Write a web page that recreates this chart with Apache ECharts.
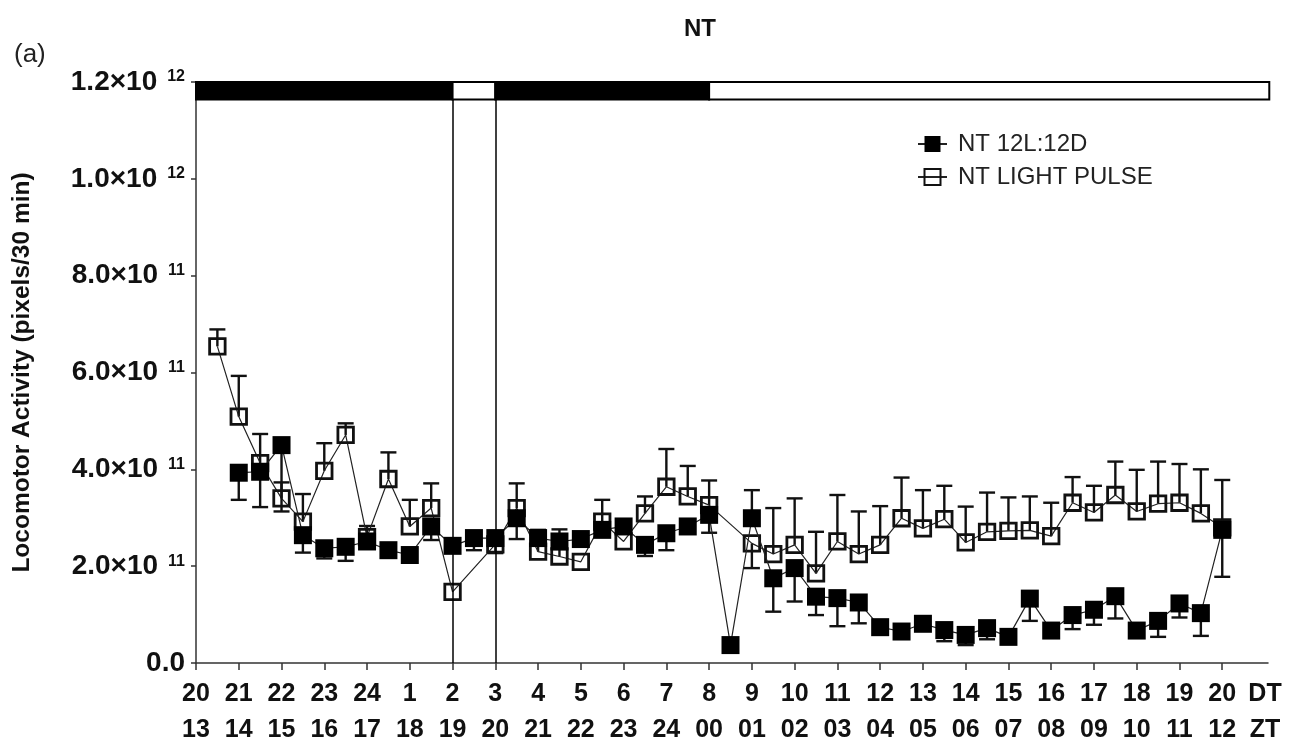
<!DOCTYPE html>
<html><head><meta charset="utf-8">
<script src="https://cdn.jsdelivr.net/npm/echarts@6/dist/echarts.min.js"></script>
<style>html,body{margin:0;padding:0;background:#fff}#c{width:1296px;height:744px}</style>
</head><body><div id="c"></div>
<script>
// x positions in hours from DT 20 (0 = DT 20 / ZT 13)
const hours = [0.5,1,1.5,2,2.5,3,3.5,4,4.5,5,5.5,6,6.5,7,7.5,8,8.5,9,9.5,10,10.5,11,11.5,12,
  12.5,13,13.5,14,14.5,15,15.5,16,16.5,17,17.5,18,18.5,19,19.5,20,20.5,21,21.5,22,22.5,23,23.5,24];
// values in units of 1e11 pixels / 30 min
const ntLD = [null,3.93,3.95,4.50,2.64,2.37,2.40,2.51,2.33,2.23,2.82,2.42,2.58,2.58,2.99,2.58,2.51,2.56,2.75,2.82,2.44,2.68,2.82,3.06,
  0.37,2.99,1.75,1.96,1.37,1.34,1.25,0.74,0.65,0.81,0.68,0.58,0.72,0.54,1.33,0.67,0.99,1.10,1.38,0.67,0.87,1.23,1.03,2.75];
const ldErrLow = [0,0.56,0.73,1.37,0.36,0.21,0.29,0.15,0,0,0.28,0,0.25,0.31,0.43,0,0,0,0,0,0.23,0.35,0,0.37,
  0,0,0.69,0.69,0.38,0.58,0.43,0,0,0,0.23,0.21,0.23,0,0.46,0,0.29,0.31,0.46,0,0.33,0.29,0.47,0.97];
const ldErrHigh = [0,0,0,0,0,0,0,0,0,0,0,0,0,0,0,0,0,0,0,0,0,0,0,0,
  0,0.58,0,0,0,0,0,0,0,0,0,0,0,0,0,0,0,0,0,0,0,0,0,1.03];
const ntLP = [6.54,5.09,4.13,3.40,2.92,3.97,4.71,2.60,3.80,2.82,3.20,1.47,null,2.45,3.20,2.30,2.20,2.09,2.92,2.51,3.09,3.64,3.44,3.26,
  null,2.47,2.25,2.44,1.85,2.51,2.25,2.44,2.99,2.78,2.97,2.49,2.71,2.73,2.74,2.62,3.31,3.11,3.47,3.13,3.29,3.31,3.09,2.80];
const lpErrHigh = [0.35,0.84,0.60,0.33,0.57,0.57,0.24,0.23,0.55,0.55,0.51,0,0,0,0.51,0.45,0.56,0,0.45,0,0.35,0.78,0.63,0.51,
  0,0,0.95,0.96,0.86,0.96,0.88,0.80,0.84,0.79,0.69,0.74,0.81,0.69,0.70,0.69,0.53,0.55,0.69,0.86,0.87,0.80,0.91,0];
const lpErrLow = [0,0,0,0,0,0,0,0,0,0,0,0,0,0,0,0,0,0,0,0,0,0,0,0,
  0,0.51,0,0,0,0,0,0,0,0,0,0,0,0,0,0,0,0,0,0,0,0,0,0];
// tick labels
const tickHours = [0,1,2,3,4,5,6,7,8,9,10,11,12,13,14,15,16,17,18,19,20,21,22,23,24];
const dtLabels = ['20','21','22','23','24','1','2','3','4','5','6','7','8','9','10','11','12','13','14','15','16','17','18','19','20'];
const ztLabels = ['13','14','15','16','17','18','19','20','21','22','23','24','00','01','02','03','04','05','06','07','08','09','10','11','12'];
// light/dark bar: [start, end, dark?]
const phases = [[0,6,1],[6,7,0],[7,12,1],[12,25.1,0]];
const pulseWindow = [6,7];
const seriesNames = ['NT 12L:12D','NT LIGHT PULSE'];

const FONT = '"Liberation Sans", Arial, Helvetica, sans-serif';
const INK = '#111';
const X_MAX = 25.07, Y_MAX = 12, BAR_TOP = 12, BAR_BOTTOM = 11.64;

function errData(mean, low, high){
  const out = [];
  hours.forEach((h,i)=>{
    if (mean[i] == null) return;
    if (high[i] > 0) out.push([h, mean[i], mean[i] + high[i]]);
    if (low[i] > 0) out.push([h, mean[i], mean[i] - low[i]]);
  });
  return out;
}
function renderErr(params, api){
  const x = api.value(0);
  const a = api.coord([x, api.value(1)]);
  const b = api.coord([x, api.value(2)]);
  const cw = 8;
  return {type:'group', children:[
    {type:'line', shape:{x1:a[0],y1:a[1],x2:b[0],y2:b[1]}, style:{stroke:INK,lineWidth:2.4}},
    {type:'line', shape:{x1:b[0]-cw,y1:b[1],x2:b[0]+cw,y2:b[1]}, style:{stroke:INK,lineWidth:2.4}}
  ]};
}
function renderPhase(params, api){
  const p0 = api.coord([api.value(0), BAR_TOP]);
  const p1 = api.coord([api.value(1), BAR_BOTTOM]);
  const dark = api.value(2) === 1;
  return {type:'rect', shape:{x:p0[0], y:p0[1], width:p1[0]-p0[0], height:p1[1]-p0[1]},
    style:{fill: dark ? '#000' : '#fff', stroke:'#000', lineWidth:2}};
}
const pair = (arr) => hours.map((h,i)=>[h, arr[i]]);

const chart = echarts.init(document.getElementById('c'));
chart.setOption({
  animation:false,
  backgroundColor:'#fff',
  title:[
    {text:'NT', left:679, top:12, textStyle:{fontFamily:FONT,fontSize:24,fontWeight:'bold',color:INK}},
    {text:'(a)', left:9, top:37, textStyle:{fontFamily:FONT,fontSize:26,fontWeight:'normal',color:'#222'}}
  ],
  legend:{
    orient:'vertical', left:912, top:126, itemWidth:29, itemHeight:20, itemGap:7,
    data:seriesNames,
    textStyle:{fontFamily:FONT,fontSize:24,color:'#222',lineHeight:26,padding:[0,0,0,6]}
  },
  grid:{left:196, right:28, top:82, bottom:81, containLabel:false},
  xAxis:{
    type:'value', min:0, max:X_MAX,
    axisLine:{show:true,onZero:false,lineStyle:{color:'#333',width:1.5}},
    axisTick:{show:true,length:7,customValues:tickHours,lineStyle:{color:'#333',width:1.5}},
    splitLine:{show:false},
    axisLabel:{
      customValues: tickHours.concat([25]),
      margin:13,
      formatter:(v)=>{
        const i = tickHours.indexOf(v);
        if (i < 0) return '{a|DT}\n{a|ZT}';
        return '{a|' + dtLabels[i] + '}\n{a|' + ztLabels[i] + '}';
      },
      rich:{a:{fontFamily:FONT,fontSize:25,fontWeight:'bold',color:INK,lineHeight:36}}
    }
  },
  yAxis:{
    type:'value', min:0, max:Y_MAX, interval:2,
    axisLine:{show:true,lineStyle:{color:'#333',width:1.5}},
    axisTick:{show:true,length:5,lineStyle:{color:'#333',width:1.5}},
    splitLine:{show:false},
    axisLabel:{
      margin:11,
      formatter:(v)=>{
        if (v === 0) return '{b|0.0}';
        const e = v >= 10 ? 12 : 11;
        const m = v >= 10 ? v/10 : v;
        return '{b|' + m.toFixed(1) + '×10}{s|' + e + '}';
      },
      rich:{
        b:{fontFamily:FONT,fontSize:28,fontWeight:'bold',color:INK,lineHeight:30},
        s:{fontFamily:FONT,fontSize:16,fontWeight:'bold',color:INK,verticalAlign:'top',padding:[2,0,0,10],lineHeight:30}
      }
    },
    name:'Locomotor Activity (pixels/30 min)', nameLocation:'middle', nameGap:161, nameRotate:90,
    nameTextStyle:{fontFamily:FONT,fontSize:24.5,fontWeight:'bold',color:INK}
  },
  series:[
    {type:'custom', name:'phaseBar', renderItem:renderPhase, data:phases, z:10, silent:true, clip:false},
    {type:'custom', name:'lpErr', renderItem:renderErr, data:errData(ntLP, lpErrLow, lpErrHigh), encode:{x:0,y:[1,2]}, z:2, silent:true},
    {type:'line', name:seriesNames[1], data:pair(ntLP), connectNulls:true, symbol:'rect', symbolSize:15.5,
      itemStyle:{color:'rgba(255,255,255,0)', borderColor:INK, borderWidth:2.8},
      lineStyle:{color:'#222',width:1.2}, z:3},
    {type:'custom', name:'ldErr', renderItem:renderErr, data:errData(ntLD, ldErrLow, ldErrHigh), encode:{x:0,y:[1,2]}, z:4, silent:true},
    {type:'line', name:seriesNames[0], data:pair(ntLD), connectNulls:true, symbol:'rect', symbolSize:18,
      itemStyle:{color:'#000'}, lineStyle:{color:'#222',width:1.2}, z:5,
      markLine:{silent:true, symbol:['none','none'], label:{show:false},
        lineStyle:{color:'#000',width:1.5,type:'solid'},
        data:pulseWindow.map(x=>({xAxis:x}))}
    }
  ]
});
</script>
</body></html>
